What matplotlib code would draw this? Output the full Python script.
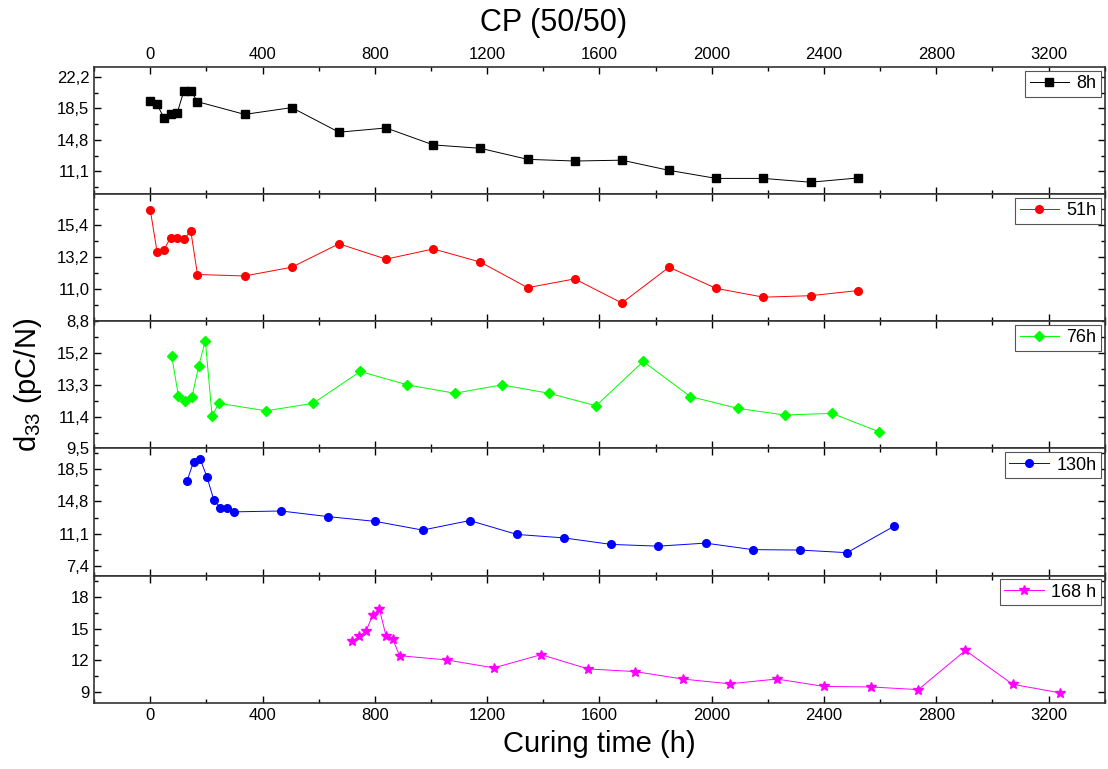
import numpy as np
import matplotlib
matplotlib.use("Agg")
import matplotlib.pyplot as plt
from matplotlib.ticker import AutoMinorLocator, FuncFormatter, MultipleLocator

plt.rcParams["font.family"] = ["Liberation Sans", "DejaVu Sans"]
plt.rcParams["mathtext.default"] = "regular"

# curing times (h)
t_8h = [0, 24, 48, 72, 96, 120, 144, 168, 336, 504, 672, 840, 1008, 1176,
        1344, 1512, 1680, 1848, 2016, 2184, 2352, 2520]
t_51h = t_8h
t_76h = [76, 100, 124, 148, 172, 196, 220, 244, 412, 580, 748, 916, 1084,
         1252, 1420, 1588, 1756, 1924, 2092, 2260, 2428, 2596]
t_130h = [130, 154, 178, 202, 226, 250, 274, 298, 466, 634, 802, 970, 1138,
          1306, 1474, 1642, 1810, 1978, 2146, 2314, 2482, 2650]
t_168h = [720, 744, 768, 792, 816, 840, 864, 888, 1056, 1224, 1392, 1560,
          1728, 1896, 2064, 2232, 2400, 2568, 2736, 2904, 3072, 3240]

# d33 (pC/N)
d_8h = [19.4, 19.0, 17.4, 17.8, 18.0, 20.6, 20.6, 19.3, 17.8, 18.6, 15.7,
        16.2, 14.2, 13.8, 12.5, 12.3, 12.4, 11.2, 10.25, 10.25, 9.8, 10.3]
d_51h = [16.4, 13.55, 13.7, 14.5, 14.5, 14.4, 15.0, 12.0, 11.9, 12.5, 14.1,
         13.05, 13.75, 12.85, 11.1, 11.7, 10.05, 12.5, 11.05, 10.45, 10.55,
         10.9]
d_76h = [15.05, 12.65, 12.35, 12.55, 14.4, 15.95, 11.45, 12.2, 11.75, 12.2,
         14.1, 13.3, 12.8, 13.3, 12.8, 12.05, 14.7, 12.6, 11.9, 11.5, 11.6,
         10.5]
d_130h = [17.1, 19.35, 19.65, 17.6, 15.0, 14.05, 14.0, 13.6, 13.7, 13.05,
          12.5, 11.5, 12.6, 11.0, 10.6, 9.85, 9.65, 10.0, 9.25, 9.2, 8.9, 11.95]
d_168h = [13.8, 14.3, 14.75, 16.25, 16.85, 14.3, 14.0, 12.45, 12.05, 11.3,
          12.55, 11.2, 10.95, 10.25, 9.8, 10.25, 9.55, 9.5, 9.25, 12.95, 9.75,
          8.95]

series = [
    (t_8h, d_8h, "8h", "black", "s", [11.1, 14.8, 18.5, 22.2], (8.4, 23.4)),
    (t_51h, d_51h, "51h", "red", "o", [8.8, 11.0, 13.2, 15.4], (8.8, 17.5)),
    (t_76h, d_76h, "76h", "#00ff00", "D", [9.5, 11.4, 13.3, 15.2], (9.5, 17.1)),
    (t_130h, d_130h, "130h", "blue", "o", [7.4, 11.1, 14.8, 18.5], (6.25, 20.9)),
    (t_168h, d_168h, "168 h", "magenta", "*", [9, 12, 15, 18], (8.0, 20.0)),
]


def comma_fmt(v, pos):
    return ("%.1f" % v).replace(".", ",")


fig, axes = plt.subplots(5, 1, sharex=True, figsize=(11.08, 7.69), dpi=100)
fig.subplots_adjust(left=0.085, right=0.997, top=0.913, bottom=0.086,
                    hspace=0)

for i, (ax, (t, d, lab, col, mk, yt, yl)) in enumerate(zip(axes, series)):
    ms = 5.5 if mk != "*" else 7
    if mk == "D":
        ms = 5
    ax.plot(t, d, color=col, marker=mk, ms=ms, lw=0.7, label=lab)
    ax.set_ylim(*yl)
    ax.set_yticks(yt)
    if i == 4:
        ax.yaxis.set_major_formatter(FuncFormatter(lambda v, p: "%d" % v))
    else:
        ax.yaxis.set_major_formatter(FuncFormatter(comma_fmt))
    ax.yaxis.set_minor_locator(AutoMinorLocator(2))
    ax.tick_params(which="both", direction="in", top=True, right=True,
                   labelsize=12, width=1)
    ax.tick_params(which="major", length=5)
    ax.tick_params(which="minor", length=3)
    for s in ax.spines.values():
        s.set_linewidth(1.2)
        s.set_color("#333333")
    leg = ax.legend(loc="upper right", fontsize=13, handlelength=2.2,
                    fancybox=False, framealpha=1, borderpad=0.25,
                    handletextpad=0.4, borderaxespad=0.2)
    leg.get_frame().set_edgecolor("#555555")
    leg.get_frame().set_linewidth(0.8)

axes[0].set_xlim(-200, 3400)
axes[0].xaxis.set_major_locator(MultipleLocator(400))
axes[0].xaxis.set_minor_locator(MultipleLocator(200))
axes[0].tick_params(labeltop=True)
axes[-1].tick_params(labelbottom=True)

fig.suptitle("CP (50/50)", fontsize=22, y=0.99)
axes[-1].set_xlabel("Curing time (h)", fontsize=21, labelpad=5)
fig.text(0.025, 0.5, "d$_{33}$ (pC/N)", rotation=90, va="center",
         ha="center", fontsize=21)

plt.savefig("out.png", dpi=100)
